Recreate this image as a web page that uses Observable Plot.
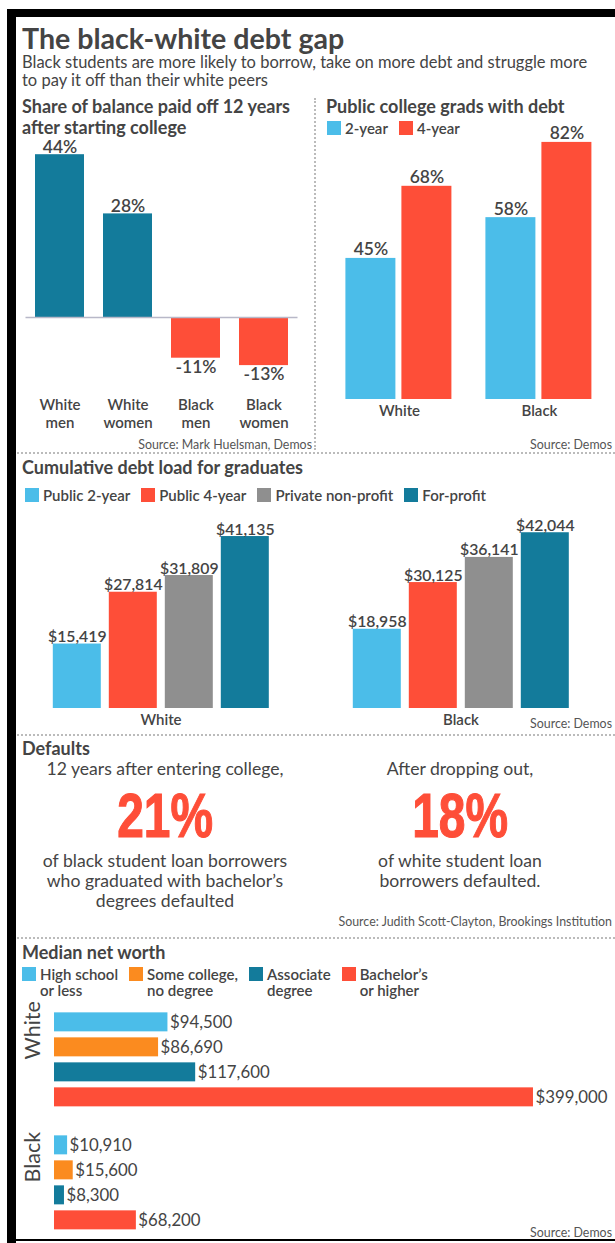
<!DOCTYPE html>
<html><head><meta charset="utf-8">
<script src="https://cdn.jsdelivr.net/npm/d3@7"></script>
<script src="https://cdn.jsdelivr.net/npm/@observablehq/plot@0.6"></script>
<style>
body{margin:0;background:#fff;}
#page{position:relative;width:615px;height:1243px;overflow:hidden;font-family:Lato,"Open Sans",sans-serif;color:#444;background:#fff;}
.abs{position:absolute;}
.h2{font-weight:700;font-size:18px;line-height:20.5px;color:#444;white-space:nowrap;}
.src{font-size:12.4px;line-height:14px;color:#555;text-align:right;white-space:nowrap;}
.dotH{position:absolute;height:0;border-top:2px dotted #bbb;}
.dotV{position:absolute;width:0;border-left:2px dotted #bbb;}
.leg{display:flex;align-items:flex-start;font-size:15px;font-weight:600;color:#444;white-space:pre-line;}
.leg .it{display:flex;align-items:flex-start;margin-right:11px;}
.leg .sw{width:14px;height:14px;margin-right:4px;flex:none;}
.bigwrap{text-align:center;}
.big{font-family:"Liberation Sans",Arial,sans-serif;font-weight:700;font-size:63px;line-height:49px;color:#fe4e38;display:inline-block;transform:scaleX(0.76);-webkit-text-stroke:1.2px #fe4e38;}
.dtxt{font-size:17.6px;line-height:20.5px;color:#444;text-align:center;white-space:pre-line;}
</style>
</head><body>
<div id="page"></div>
<script>
// ---------- data ----------
const shareCategories = ["White men", "White women", "Black men", "Black women"];
const shareRace = ["White", "White", "Black", "Black"];
const shareValues = [44, 28, -11, -13];

const gradRaces = ["White", "Black"];
const gradTypes = ["2-year", "4-year"];
const grad2Year = [45, 58];
const grad4Year = [68, 82];

const debtRaces = ["White", "Black"];
const debtTypes = ["Public 2-year", "Public 4-year", "Private non-profit", "For-profit"];
const debtWhite = [15419, 27814, 31809, 41135];
const debtBlack = [18958, 30125, 36141, 42044];

const defaultsPct = [21, 18];
const defaultsLead = ["12 years after entering college,", "After dropping out,"];
const defaultsText = ["of black student loan borrowers\nwho graduated with bachelor\u2019s\ndegrees defaulted", "of white student loan\nborrowers defaulted."];

const worthRaces = ["White", "Black"];
const worthLevels = ["High school\nor less", "Some college,\nno degree", "Associate\ndegree", "Bachelor\u2019s\nor higher"];
const worthWhite = [94500, 86690, 117600, 399000];
const worthBlack = [10910, 15600, 8300, 68200];

// ---------- styles ----------
const BLUE = "#4bbde9", RED = "#fe4e38", TEAL = "#137b9b", GRAY = "#8f8f8f", ORANGE = "#fb8b1f";
const gradColors = [BLUE, RED];
const debtColors = [BLUE, RED, GRAY, TEAL];
const worthColors = [BLUE, ORANGE, TEAL, RED];

const page = document.getElementById("page");
function add(html, cls, css) {
  const d = document.createElement("div");
  d.className = "abs " + (cls || "");
  d.innerHTML = html;
  Object.assign(d.style, css);
  page.appendChild(d);
  return d;
}
function addNode(node, left, top) {
  const d = document.createElement("div");
  d.className = "abs";
  d.style.left = left + "px"; d.style.top = top + "px";
  d.appendChild(node);
  page.appendChild(d);
}
function legend(labels, colors, left, top) {
  const d = add("", "leg", {left: left + "px", top: top + "px"});
  labels.forEach((l, i) => {
    const it = document.createElement("div"); it.className = "it";
    const sw = document.createElement("div"); sw.className = "sw"; sw.style.background = colors[i];
    const tx = document.createElement("div"); tx.textContent = l; tx.style.lineHeight = "16px"; tx.style.marginTop = "-1px";
    it.appendChild(sw); it.appendChild(tx); d.appendChild(it);
  });
  return d;
}
const svgStyle = {fontFamily: "Lato, sans-serif", color: "#444", background: "transparent", overflow: "visible"};

// ---------- frame ----------
add("", "", {left: "7px", top: "9px", width: "608px", height: "8px", background: "#000"});
add("", "", {left: "7px", top: "9px", width: "9px", height: "1234px", background: "#000"});
add("", "", {left: "7px", top: "1239px", width: "608px", height: "2px", background: "#000"});

// ---------- header ----------
add("The black-white debt gap", "", {left: "22px", top: "22px", fontSize: "28.6px", lineHeight: "32px", fontWeight: "700", color: "#444", whiteSpace: "nowrap"});
add("Black students are more likely to borrow, take on more debt and struggle more<br>to pay it off than their white peers", "", {left: "22px", top: "53px", fontSize: "16.5px", lineHeight: "18.3px", color: "#444", whiteSpace: "nowrap"});

// ---------- panel 1 ----------
add("Share of balance paid off 12 years<br>after starting college", "h2", {left: "22px", top: "96px"});
const shareData = shareCategories.map((c, i) => ({cat: c, race: shareRace[i], value: shareValues[i]}));
const chart1 = Plot.plot({
  width: 296, height: 320, marginTop: 13, marginBottom: 48, marginLeft: 8.5, marginRight: 15.5,
  style: svgStyle,
  x: {domain: shareCategories, paddingInner: 0.28, paddingOuter: 0.14},
  y: {domain: [-20, 50], axis: null},
  color: {domain: ["White", "Black"], range: [TEAL, RED]},
  marks: [
    Plot.barY(shareData, {x: "cat", y: "value", fill: {value: "race", scale: "color"}}),
    Plot.ruleY([0], {stroke: "#b8b8c8", strokeWidth: 1.5}),
    Plot.text(shareData.filter(d => d.value >= 0), {x: "cat", y: "value", text: d => d.value + "%", lineAnchor: "bottom", dy: -2, fontSize: 17.5, fontWeight: 600}),
    Plot.text(shareData.filter(d => d.value < 0), {x: "cat", y: "value", text: d => d.value + "%", lineAnchor: "top", dy: 2, fontSize: 17.5, fontWeight: 600}),
    Plot.axisX({tickSize: 0, tickPadding: 5, fontSize: 15, lineHeight: 1.22, fontWeight: 600, tickFormat: d => d.replace(" ", "\n"), label: null})
  ]
});
addNode(chart1, 17, 119);
add("Source: Mark Huelsman, Demos", "src", {right: (615 - 312) + "px", top: "438px"});
add("", "dotV", {left: "314px", top: "98px", height: "352px"});

// ---------- panel 2 ----------
add("Public college grads with debt", "h2", {left: "326px", top: "96px"});
legend(gradTypes, gradColors, 327, 121);
const gradData = gradRaces.flatMap((r, i) => [
  {race: r, type: gradTypes[0], value: grad2Year[i]},
  {race: r, type: gradTypes[1], value: grad4Year[i]}
]);
const chart2 = Plot.plot({
  width: 300, height: 320, marginTop: 20.5, marginBottom: 33, marginLeft: 24.6, marginRight: 17.1,
  style: svgStyle,
  fx: {domain: gradRaces, paddingInner: 0.16, paddingOuter: 0, label: null},
  x: {domain: gradTypes, padding: 0.1, axis: null},
  y: {domain: [0, 85], axis: null},
  color: {domain: gradTypes, range: gradColors},
  marks: [
    Plot.barY(gradData, {fx: "race", x: "type", y: "value", fill: "type"}),
    Plot.text(gradData, {fx: "race", x: "type", y: "value", text: d => d.value + "%", lineAnchor: "bottom", dy: -3, fontSize: 17.5, fontWeight: 600}),
    Plot.axisFx({anchor: "bottom", tickSize: 0, tickPadding: 6, fontSize: 15, fontWeight: 600, label: null})
  ]
});
addNode(chart2, 315, 112);
add("Source: Demos", "src", {right: "3px", top: "438px"});
add("", "dotH", {left: "17px", top: "452px", width: "598px"});

// ---------- panel 3 ----------
add("Cumulative debt load for graduates", "h2", {left: "22px", top: "457px"});
legend(debtTypes, debtColors, 25, 488);
const debtData = debtRaces.flatMap((r, i) => debtTypes.map((t, j) => ({race: r, type: t, value: (i === 0 ? debtWhite : debtBlack)[j]})));
const chart3 = Plot.plot({
  width: 598, height: 230, marginTop: 10.7, marginBottom: 27, marginLeft: 26.2, marginRight: 37.7,
  style: svgStyle,
  fx: {domain: debtRaces, paddingInner: 0.2226, paddingOuter: 0, label: null},
  x: {domain: debtTypes, padding: 0.15, axis: null},
  y: {domain: [0, 46000], axis: null},
  color: {domain: debtTypes, range: debtColors},
  marks: [
    Plot.barY(debtData, {fx: "race", x: "type", y: "value", fill: "type"}),
    Plot.text(debtData, {fx: "race", x: "type", y: "value", text: d => "$" + d3.format(",")(d.value), lineAnchor: "bottom", dy: -2, fontSize: 15.8, fontWeight: 600}),
    Plot.axisFx({anchor: "bottom", tickSize: 0, tickPadding: 6, fontSize: 15, fontWeight: 600, label: null})
  ]
});
addNode(chart3, 17, 505);
add("Source: Demos", "src", {right: "3px", top: "717px"});
add("", "dotH", {left: "17px", top: "734px", width: "598px"});

// ---------- defaults ----------
add("Defaults", "h2", {left: "22px", top: "738px"});
const colCenters = [165, 460];
defaultsPct.forEach((p, i) => {
  const c = colCenters[i];
  add(defaultsLead[i], "dtxt", {left: (c - 150) + "px", width: "300px", top: "758.5px"});
  const b = add("", "bigwrap", {left: (c - 150) + "px", width: "300px", top: "790.7px"});
  const s = document.createElement("span"); s.className = "big"; s.textContent = p + "%"; b.appendChild(s);
  add(defaultsText[i], "dtxt", {left: (c - 150) + "px", width: "300px", top: "851.2px", lineHeight: "20px"});
});
add("Source: Judith Scott-Clayton, Brookings Institution", "src", {right: "3px", top: "915px"});
add("", "dotH", {left: "17px", top: "937px", width: "598px"});

// ---------- net worth ----------
add("Median net worth", "h2", {left: "22px", top: "942px"});
legend(worthLevels, worthColors, 22, 967);
const worthData = worthRaces.flatMap((r, i) => worthLevels.map((l, j) => ({race: r, level: l, value: (i === 0 ? worthWhite : worthBlack)[j]})));
const chart4 = Plot.plot({
  width: 598, height: 240, marginTop: 7.65, marginBottom: 6.15, marginLeft: 37, marginRight: 20.8,
  style: svgStyle,
  fy: {domain: worthRaces, paddingInner: 0.168, paddingOuter: 0, axis: null},
  y: {domain: worthLevels, paddingInner: 0.26, paddingOuter: 0.13, axis: null},
  x: {domain: [0, 450000], axis: null},
  color: {domain: worthLevels, range: worthColors},
  marks: [
    Plot.barX(worthData, {fy: "race", y: "level", x: "value", fill: "level"}),
    Plot.text(worthData, {fy: "race", y: "level", x: "value", text: d => "$" + d3.format(",")(d.value), textAnchor: "start", dx: 2, fontSize: 16.8}),
    Plot.text(worthRaces, {fy: d => d, text: d => d, frameAnchor: "left", rotate: -90, dx: -21, fontSize: 21.5})
  ]
});
addNode(chart4, 17, 1000);
add("Source: Demos", "src", {right: "3px", top: "1226px"});
</script>
</body></html>
